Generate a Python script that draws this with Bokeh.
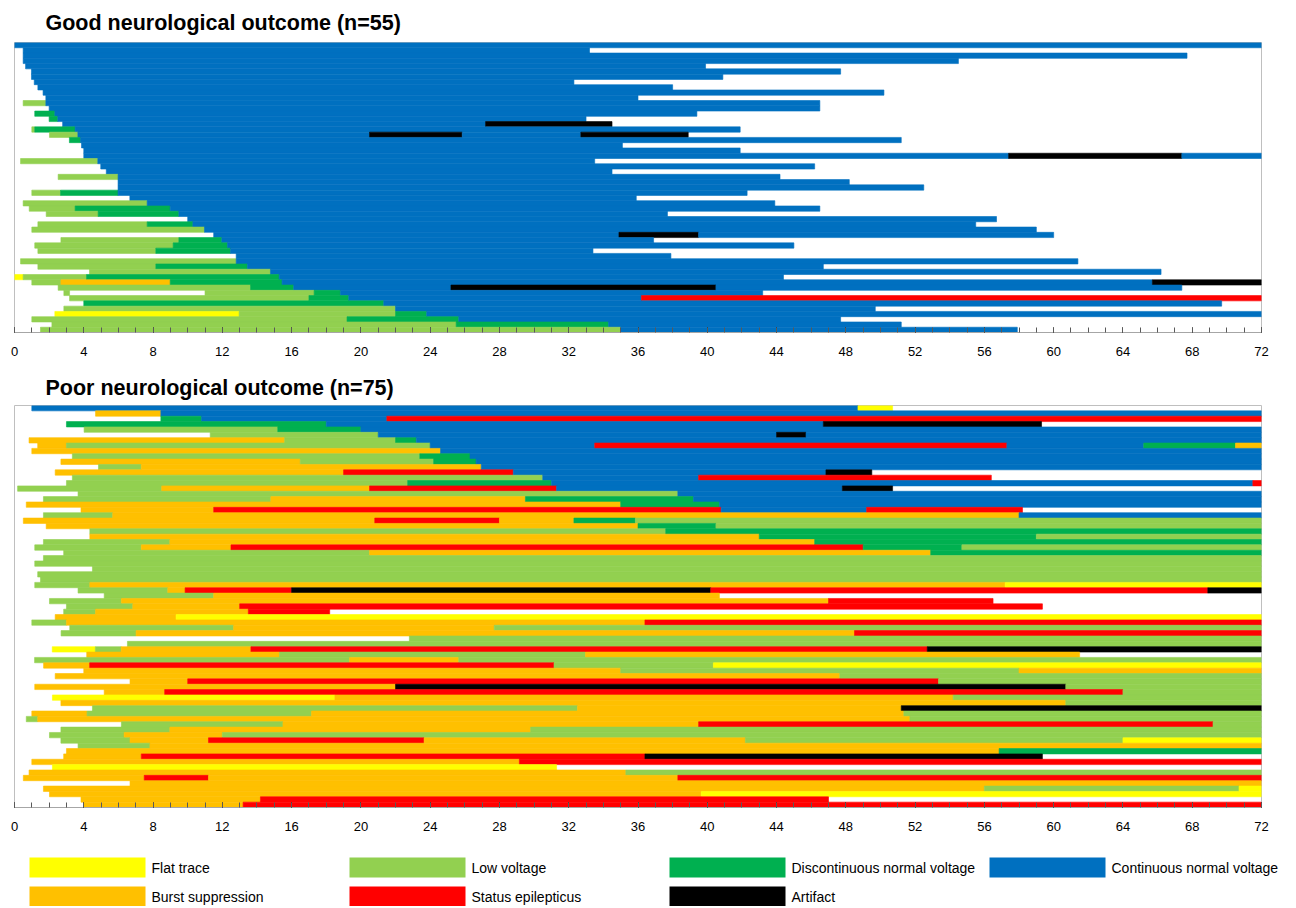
from bokeh.plotting import figure
from bokeh.models import Range1d, ColumnDataSource, FixedTicker, Title
from bokeh.layouts import column
from bokeh.embed import file_html
from bokeh.resources import INLINE
from bokeh.core.properties import value

# ---------------- data ----------------
categories = ["Flat trace", "Low voltage", "Discontinuous normal voltage",
              "Continuous normal voltage", "Burst suppression",
              "Status epilepticus", "Artifact"]
codes = ["Y", "LG", "G", "B", "BS", "R", "K"]
colors = ["#FFFF00", "#92D050", "#00B050", "#0070C0", "#FFC000", "#FF0000", "#000000"]
hour_ticks = list(range(0, 73, 4))
minor_hour_ticks = list(range(0, 73))
titles = ["Good neurological outcome (n=55)", "Poor neurological outcome (n=75)"]

# each row: list of (state, start hour, end hour)
good_rows = [
    [("B", 0, 72)],
    [("B", 0.5, 33.2)],
    [("B", 0.5, 67.7)],
    [("B", 0.5, 54.5)],
    [("B", 0.64, 39.9)],
    [("B", 0.98, 47.7)],
    [("B", 0.98, 40.9)],
    [("B", 1.14, 32.3)],
    [("B", 1.35, 38.0)],
    [("B", 1.65, 50.2)],
    [("B", 1.81, 36.0)],
    [("LG", 0.5, 1.81), ("B", 1.81, 46.5)],
    [("B", 2.0, 46.5)],
    [("G", 1.17, 2.33), ("B", 2.33, 39.4)],
    [("G", 2.0, 2.5), ("B", 2.5, 33.0)],
    [("B", 2.78, 27.2), ("K", 27.2, 34.5)],
    [("LG", 1.0, 1.17), ("G", 1.17, 3.5), ("B", 3.5, 41.9)],
    [("LG", 2.02, 3.66), ("B", 3.66, 20.5), ("K", 20.5, 25.85), ("B", 25.85, 32.7), ("K", 32.7, 38.9)],
    [("G", 3.17, 3.81), ("B", 3.81, 51.2)],
    [("B", 3.87, 35.1)],
    [("B", 4.0, 41.9)],
    [("B", 4.0, 57.4), ("K", 57.4, 67.4), ("B", 67.4, 72)],
    [("LG", 0.35, 4.81), ("B", 4.81, 33.5)],
    [("B", 4.98, 46.2)],
    [("B", 5.3, 34.5)],
    [("LG", 2.52, 5.98), ("B", 5.98, 44.2)],
    [("B", 5.98, 48.2)],
    [("B", 5.98, 52.5)],
    [("LG", 1.0, 2.66), ("G", 2.66, 5.98), ("B", 5.98, 42.3)],
    [("B", 6.66, 35.9)],
    [("LG", 0.5, 7.66), ("B", 7.66, 43.9)],
    [("LG", 0.85, 3.5), ("G", 3.5, 8.99), ("B", 8.99, 46.5)],
    [("LG", 1.83, 4.83), ("G", 4.83, 9.49), ("B", 9.49, 37.7)],
    [("B", 10.0, 56.7)],
    [("LG", 1.35, 7.66), ("G", 7.66, 10.3), ("B", 10.3, 55.5)],
    [("LG", 1.0, 10.97), ("B", 10.97, 59.0)],
    [("B", 11.5, 34.9), ("K", 34.9, 39.5), ("B", 39.5, 60.0)],
    [("LG", 2.68, 9.49), ("G", 9.49, 11.97), ("B", 11.97, 36.9)],
    [("LG", 1.17, 9.16), ("G", 9.16, 12.3), ("B", 12.3, 45.0)],
    [("LG", 1.35, 8.16), ("G", 8.16, 12.47), ("B", 12.47, 33.4)],
    [("B", 12.8, 37.9)],
    [("LG", 0.35, 12.8), ("B", 12.8, 61.4)],
    [("LG", 1.35, 8.16), ("G", 8.16, 13.45), ("B", 13.45, 46.7)],
    [("LG", 4.33, 14.78), ("B", 14.78, 66.2)],
    [("Y", 0, 0.5), ("LG", 0.5, 4.16), ("G", 4.16, 15.28), ("B", 15.28, 44.4)],
    [("LG", 1.0, 2.68), ("BS", 2.68, 8.99), ("G", 8.99, 15.45), ("B", 15.45, 65.7), ("K", 65.7, 72)],
    [("LG", 2.52, 13.63), ("G", 13.63, 16.12), ("B", 16.12, 25.2), ("K", 25.2, 40.5), ("B", 40.5, 67.4)],
    [("LG", 2.85, 3.18), ("LG", 11.0, 17.3), ("G", 17.3, 18.82), ("B", 18.82, 43.2)],
    [("LG", 3.18, 17.0), ("G", 17.0, 19.3), ("B", 19.3, 36.2), ("R", 36.2, 72)],
    [("G", 4.0, 21.32), ("B", 21.32, 69.7)],
    [("LG", 2.85, 22.0), ("B", 22.0, 49.7)],
    [("Y", 2.33, 12.97), ("LG", 12.97, 22.0), ("G", 22.0, 23.8), ("B", 23.8, 72)],
    [("LG", 1.0, 19.2), ("G", 19.2, 25.65), ("B", 25.65, 47.7)],
    [("LG", 2.16, 25.5), ("G", 25.5, 34.3), ("B", 34.3, 51.2)],
    [("LG", 1.5, 35.0), ("B", 35.0, 57.9)],
]

poor_rows = [
    [("B", 1.0, 48.7), ("Y", 48.7, 50.7)],
    [("BS", 4.68, 8.45), ("B", 8.45, 72)],
    [("G", 8.45, 10.8), ("B", 10.8, 21.5), ("R", 21.5, 72)],
    [("G", 3.0, 18.0), ("B", 18.0, 46.7), ("K", 46.7, 59.3)],
    [("LG", 4.02, 15.2), ("G", 15.2, 20.0), ("B", 20.0, 72)],
    [("LG", 11.3, 21.0), ("B", 21.0, 44.0), ("K", 44.0, 45.7), ("B", 45.7, 72)],
    [("BS", 0.84, 15.6), ("LG", 15.6, 22.0), ("G", 22.0, 23.2), ("B", 23.2, 72)],
    [("BS", 1.34, 3.0), ("LG", 3.0, 24.0), ("B", 24.0, 33.5), ("R", 33.5, 57.3), ("B", 57.3, 65.2), ("G", 65.2, 70.5), ("BS", 70.5, 72)],
    [("BS", 1.0, 24.6), ("B", 24.6, 72)],
    [("LG", 3.34, 23.4), ("G", 23.4, 26.3), ("B", 26.3, 72)],
    [("BS", 2.68, 16.5), ("LG", 16.5, 24.2), ("G", 24.2, 26.65), ("B", 26.65, 72)],
    [("LG", 4.85, 7.32), ("BS", 7.32, 26.95), ("B", 26.95, 72)],
    [("BS", 2.35, 19.0), ("R", 19.0, 28.8), ("B", 28.8, 46.85), ("K", 46.85, 49.5)],
    [("LG", 3.34, 30.5), ("B", 30.5, 39.5), ("R", 39.5, 56.4)],
    [("LG", 3.0, 22.7), ("G", 22.7, 31.0), ("B", 31.0, 71.5), ("R", 71.5, 72)],
    [("LG", 0.18, 8.5), ("BS", 8.5, 20.5), ("R", 20.5, 31.3), ("B", 31.3, 47.8), ("K", 47.8, 50.7)],
    [("LG", 3.67, 38.3), ("B", 38.3, 72)],
    [("LG", 1.67, 14.8), ("BS", 14.8, 29.5), ("G", 29.5, 39.2), ("B", 39.2, 72)],
    [("BS", 0.68, 35.0), ("G", 35.0, 40.7), ("B", 40.7, 72)],
    [("BS", 3.84, 11.5), ("R", 11.5, 40.8), ("B", 40.8, 49.2), ("R", 49.2, 58.2)],
    [("LG", 1.67, 5.67), ("BS", 5.67, 58.0), ("B", 58.0, 72)],
    [("BS", 0.51, 20.8), ("R", 20.8, 28.0), ("BS", 28.0, 32.3), ("G", 32.3, 35.85), ("LG", 35.85, 72)],
    [("BS", 1.83, 36.0), ("G", 36.0, 40.5), ("LG", 40.5, 72)],
    [("LG", 4.35, 37.6), ("G", 37.6, 72)],
    [("BS", 4.35, 43.0), ("G", 43.0, 59.0), ("LG", 59.0, 72)],
    [("LG", 1.67, 8.97), ("BS", 8.97, 46.2), ("G", 46.2, 72)],
    [("LG", 1.17, 7.32), ("BS", 7.32, 12.5), ("R", 12.5, 49.0), ("G", 49.0, 54.7), ("LG", 54.7, 72)],
    [("LG", 2.84, 20.5), ("BS", 20.5, 52.9), ("G", 52.9, 72)],
    [("LG", 1.67, 72)],
    [("LG", 1.17, 72)],
    [("LG", 4.5, 72)],
    [("LG", 1.34, 72)],
    [("LG", 1.5, 72)],
    [("LG", 1.17, 4.35), ("BS", 4.35, 57.2), ("Y", 57.2, 72)],
    [("LG", 3.67, 8.85), ("BS", 8.85, 9.85), ("R", 9.85, 16.0), ("K", 16.0, 40.2), ("R", 40.2, 68.9), ("K", 68.9, 72)],
    [("LG", 5.18, 11.5), ("BS", 11.5, 40.7)],
    [("LG", 2.02, 6.17), ("BS", 6.17, 47.0), ("R", 47.0, 56.5)],
    [("LG", 3.0, 6.83), ("BS", 6.83, 13.0), ("R", 13.0, 59.35)],
    [("LG", 2.84, 4.68), ("BS", 4.68, 13.5), ("R", 13.5, 18.2)],
    [("BS", 2.35, 9.33), ("Y", 9.33, 72)],
    [("LG", 1.0, 3.0), ("BS", 3.0, 36.4), ("R", 36.4, 72)],
    [("LG", 3.19, 12.65), ("BS", 12.65, 27.7), ("LG", 27.7, 72)],
    [("LG", 2.69, 7.02), ("BS", 7.02, 48.5), ("R", 48.5, 72)],
    [("LG", 22.8, 72)],
    [("LG", 6.52, 72)],
    [("Y", 2.18, 4.67), ("LG", 4.67, 6.16), ("BS", 6.16, 13.65), ("R", 13.65, 52.7), ("K", 52.7, 72)],
    [("BS", 4.17, 15.3), ("LG", 15.3, 32.97), ("BS", 32.97, 61.5)],
    [("LG", 1.16, 19.35), ("BS", 19.35, 25.65), ("LG", 25.65, 72)],
    [("BS", 1.68, 4.34), ("R", 4.34, 31.15), ("LG", 31.15, 40.35), ("Y", 40.35, 72)],
    [("BS", 4.0, 35.0), ("LG", 35.0, 58.0), ("BS", 58.0, 72)],
    [("BS", 2.35, 47.65), ("LG", 47.65, 72)],
    [("BS", 6.67, 10.0), ("R", 10.0, 53.35), ("LG", 53.35, 72)],
    [("BS", 1.17, 22.0), ("K", 22.0, 60.7), ("LG", 60.7, 72)],
    [("BS", 5.18, 8.67), ("R", 8.67, 64.0), ("LG", 64.0, 72)],
    [("Y", 2.19, 18.5), ("BS", 18.5, 54.2), ("LG", 54.2, 72)],
    [("BS", 2.68, 60.7), ("LG", 60.7, 72)],
    [("LG", 4.5, 32.5), ("BS", 32.5, 51.2), ("K", 51.2, 72)],
    [("BS", 1.0, 4.19), ("LG", 4.19, 17.15), ("BS", 17.15, 51.35), ("LG", 51.35, 72)],
    [("LG", 0.68, 1.34), ("BS", 1.34, 51.7), ("LG", 51.7, 72)],
    [("LG", 6.17, 15.5), ("BS", 15.5, 39.5), ("R", 39.5, 69.2), ("LG", 69.2, 72)],
    [("LG", 2.68, 8.97), ("BS", 8.97, 29.8), ("LG", 29.8, 72)],
    [("LG", 2.02, 6.33), ("BS", 6.33, 12.0), ("LG", 12.0, 72)],
    [("LG", 2.68, 6.67), ("BS", 6.67, 11.2), ("R", 11.2, 23.65), ("BS", 23.65, 42.2), ("LG", 42.2, 64.0), ("Y", 64.0, 72)],
    [("LG", 3.67, 7.82), ("BS", 7.82, 72)],
    [("BS", 3.0, 56.85), ("G", 56.85, 72)],
    [("BS", 2.84, 7.32), ("R", 7.32, 36.4), ("K", 36.4, 59.35)],
    [("BS", 1.0, 29.15), ("R", 29.15, 72)],
    [("Y", 2.19, 31.3)],
    [("BS", 0.84, 35.3), ("LG", 35.3, 72)],
    [("BS", 0.51, 7.49), ("R", 7.49, 11.2), ("BS", 11.2, 38.3), ("R", 38.3, 72)],
    [("BS", 6.67, 72)],
    [("BS", 1.67, 56.0), ("LG", 56.0, 70.7), ("Y", 70.7, 72)],
    [("BS", 2.02, 39.65), ("Y", 39.65, 72)],
    [("BS", 3.84, 14.2), ("R", 14.2, 47.0)],
    [("BS", 4.0, 13.2), ("R", 13.2, 72)],
]

# ---------------- helpers ----------------
code_color = dict(zip(codes, colors))
FONT = "Liberation Sans"


def build_source(rows):
    left, right, top, bottom, fill = [], [], [], [], []
    for i, segs in enumerate(rows):
        for c, s, e in segs:
            left.append(s)
            right.append(e)
            top.append(i)
            bottom.append(i + 1)
            fill.append(code_color[c])
    return ColumnDataSource(dict(left=left, right=right, top=top, bottom=bottom, fill=fill))


def make_panel(rows, title, height, border_top, title_standoff):
    n = len(rows)
    p = figure(width=1296, height=height, x_range=Range1d(0, 72), y_range=Range1d(n, 0),
               output_backend="svg", toolbar_location=None,
               min_border_left=14, min_border_right=35,
               min_border_top=border_top, min_border_bottom=33)
    p.title = Title(text=title, align="left", offset=31, text_font=FONT,
                    text_font_size="21.5px", text_font_style="bold", text_color="#000000",
                    standoff=title_standoff)
    p.quad(left="left", right="right", top="top", bottom="bottom",
           fill_color="fill", line_color="fill", line_width=0.6, source=build_source(rows))
    p.xgrid.visible = False
    p.ygrid.visible = False
    p.yaxis.visible = False
    p.outline_line_color = "#BFBFBF"
    ax = p.xaxis[0]
    ax.ticker = FixedTicker(ticks=hour_ticks, minor_ticks=minor_hour_ticks)
    ax.axis_line_color = "#A6A6A6"
    ax.major_tick_in = 5
    ax.major_tick_out = 0
    ax.minor_tick_in = 5
    ax.minor_tick_out = 0
    ax.major_tick_line_color = "#000000"
    ax.minor_tick_line_color = "#595959"
    ax.major_label_text_font = FONT
    ax.major_label_text_font_size = "13px"
    ax.major_label_text_color = "#000000"
    ax.major_label_standoff = 14
    return p


p_good = make_panel(good_rows, titles[0], 365, 38, 16)
p_poor = make_panel(poor_rows, titles[1], 475, 40, 12)

# ---------------- legend (separate root, so its frame spans the full width) ----------------
leg = figure(width=1296, height=66, x_range=Range1d(0, 1296), y_range=Range1d(66, 0),
             output_backend="svg", toolbar_location=None,
             min_border_left=0, min_border_right=0, min_border_top=0, min_border_bottom=0)
leg.axis.visible = False
leg.grid.visible = False
leg.outline_line_color = None
col_x = [29, 349, 669, 989]
row_y = [17, 46]
lx, ly, lfill, ltext = [], [], [], []
for k in range(len(categories)):
    r, c = divmod(k, 4)
    lx.append(col_x[c])
    ly.append(row_y[r])
    lfill.append(colors[k])
    ltext.append(categories[k])
lsrc = ColumnDataSource(dict(left=lx, right=[x + 116 for x in lx], top=ly,
                             bottom=[y + 20 for y in ly], fill=lfill,
                             tx=[x + 122 for x in lx], ty=[y + 10 for y in ly], text=ltext))
leg.quad(left="left", right="right", top="top", bottom="bottom", fill_color="fill",
         line_color=None, source=lsrc)
leg.text(x="tx", y="ty", text="text", source=lsrc, text_baseline="middle", text_align="left",
         text_font=value(FONT), text_font_size=value("14px"), text_color="#000000")

panels = column(p_good, p_poor)
open("out.html", "w").write(file_html([panels, leg], INLINE))
